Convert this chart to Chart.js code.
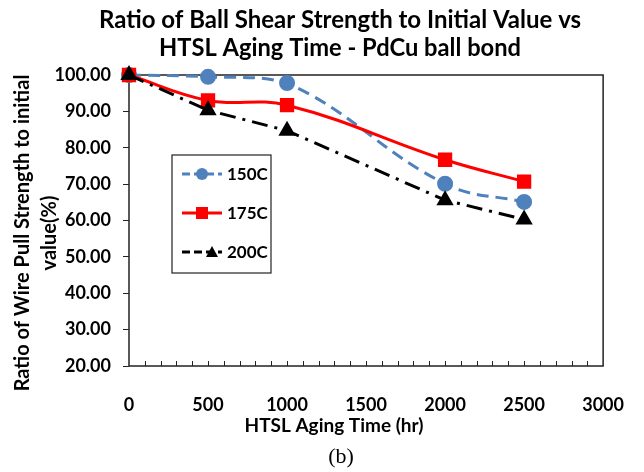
<!DOCTYPE html>
<html>
<head>
<meta charset="utf-8">
<script src="https://cdn.jsdelivr.net/npm/chart.js@4"></script>
<style>
  body { margin: 0; background: #fff; }
</style>
</head>
<body>
<canvas id="chart" width="644" height="472"></canvas>
<script>
// data
const hours = [0, 500, 1000, 2000, 2500];
const ratio150 = [100, 99.5, 97.8, 70.1, 65.1];
const ratio175 = [100, 93.0, 91.7, 76.7, 70.7];
const ratio200 = [100, 90.3, 84.7, 65.6, 60.3];
const seriesNames = ['150C', '175C', '200C'];
const xLabelValues = [0, 500, 1000, 1500, 2000, 2500, 3000];

const titleLines = ['Ratio of Ball Shear Strength to Initial Value vs', 'HTSL Aging Time - PdCu ball bond'];
const yTitleLines = ['Ratio of Wire Pull Strength to initial', 'value(%)'];
const xTitle = 'HTSL Aging Time (hr)';
const caption = '(b)';

const FONT = 'Lato, "Open Sans", sans-serif';
const BLUE = '#4f81bd';
const RED = '#ff0000';
const BLACK = '#000000';

function pts(ys) {
  return hours.map((h, i) => ({ x: h, y: ys[i] }));
}

// titles, box, inner ticks and the legend
const decorations = {
  id: 'decorations',
  beforeDatasetsDraw(chart) {
    const { ctx, chartArea: a, scales } = chart;
    ctx.save();
    ctx.strokeStyle = '#222';
    ctx.lineWidth = 1.5;
    ctx.strokeRect(a.left, a.top, a.right - a.left, a.bottom - a.top);
    ctx.lineWidth = 1;
    ctx.beginPath();
    for (let v = 100; v < 3000; v += 100) {
      const px = Math.round(scales.x.getPixelForValue(v)) + 0.5;
      ctx.moveTo(px, a.bottom);
      ctx.lineTo(px, a.bottom - 5);
    }
    ctx.stroke();
    ctx.restore();
  },
  afterDraw(chart) {
    const { ctx, chartArea: a } = chart;
    ctx.save();
    ctx.fillStyle = '#000';
    ctx.textAlign = 'center';
    ctx.textBaseline = 'alphabetic';

    // main title
    ctx.font = 'bold 24px ' + FONT;
    ctx.fillText(titleLines[0], 340, 28, 488);
    ctx.fillText(titleLines[1], 340, 56, 362);

    // x title and caption
    ctx.font = 'bold 19px ' + FONT;
    ctx.fillText(xTitle, 334, 432, 180);
    ctx.font = '22px "Liberation Serif", "Times New Roman", serif';
    ctx.fillText(caption, 341, 463);

    // y title
    ctx.save();
    ctx.translate(0, 233);
    ctx.rotate(-Math.PI / 2);
    ctx.font = 'bold 20px ' + FONT;
    ctx.fillText(yTitleLines[0], 0, 29, 327);
    ctx.fillText(yTitleLines[1], 0, 56);
    ctx.restore();

    // legend box
    const lx = a.left + 43, ly = a.top + 80, lw = 99, lh = 118;
    ctx.fillStyle = '#fff';
    ctx.fillRect(lx, ly, lw, lh);
    ctx.strokeStyle = '#222';
    ctx.lineWidth = 1.2;
    ctx.strokeRect(lx, ly, lw, lh);
    chart.data.datasets.forEach((ds, i) => {
      const y = ly + 19 + i * 39;
      ctx.strokeStyle = ds.borderColor;
      ctx.lineWidth = 3;
      ctx.setLineDash(ds.borderDash ? [8, 4] : []);
      ctx.beginPath();
      ctx.moveTo(lx + 10, y);
      ctx.lineTo(lx + 50, y);
      ctx.stroke();
      ctx.setLineDash([]);
      ctx.fillStyle = ds.pointBackgroundColor;
      ctx.beginPath();
      if (ds.pointStyle === 'circle') {
        ctx.arc(lx + 30, y, 6, 0, Math.PI * 2);
      } else if (ds.pointStyle === 'rect') {
        ctx.rect(lx + 24, y - 6, 12, 12);
      } else {
        ctx.moveTo(lx + 40, y - 6);
        ctx.lineTo(lx + 46, y + 5);
        ctx.lineTo(lx + 34, y + 5);
        ctx.closePath();
      }
      ctx.fill();
      ctx.fillStyle = '#000';
      ctx.textAlign = 'left';
      ctx.textBaseline = 'middle';
      ctx.font = 'bold 17px ' + FONT;
      ctx.fillText(ds.label, lx + 55, y + 1);
    });
    ctx.restore();
  }
};

new Chart(document.getElementById('chart'), {
  type: 'line',
  data: {
    datasets: [
      {
        label: seriesNames[0],
        data: pts(ratio150),
        borderColor: BLUE,
        backgroundColor: BLUE,
        pointBackgroundColor: BLUE,
        borderWidth: 3,
        borderDash: [12, 7],
        pointStyle: 'circle',
        pointRadius: 6.5,
        tension: 0.4,
        order: 2
      },
      {
        label: seriesNames[1],
        data: pts(ratio175),
        borderColor: RED,
        backgroundColor: RED,
        pointBackgroundColor: RED,
        borderWidth: 3,
        pointStyle: 'rect',
        pointRadius: 8,
        tension: 0.4,
        order: 1
      },
      {
        label: seriesNames[2],
        data: pts(ratio200),
        borderColor: BLACK,
        backgroundColor: BLACK,
        pointBackgroundColor: BLACK,
        borderWidth: 3,
        borderDash: [16, 7, 3, 7],
        pointStyle: 'triangle',
        pointRadius: 7,
        tension: 0,
        order: 0
      }
    ]
  },
  options: {
    responsive: false,
    animation: false,
    clip: false,
    layout: { padding: { top: 75, right: 33, left: 0, bottom: 0 } },
    plugins: {
      legend: { display: false },
      title: { display: false },
      tooltip: { enabled: false }
    },
    elements: { point: { borderWidth: 0 } },
    scales: {
      x: {
        type: 'linear',
        min: 0,
        max: 3000,
        afterBuildTicks(scale) {
          scale.ticks = xLabelValues.map(v => ({ value: v }));
        },
        afterFit(scale) { scale.height = 106; },
        grid: { display: false },
        border: { display: false },
        ticks: {
          color: '#000',
          padding: 20,
          maxRotation: 0,
          autoSkip: false,
          font: { family: FONT, size: 18, weight: 'bold' },
          callback: v => String(v)
        }
      },
      y: {
        min: 20,
        max: 100,
        afterFit(scale) { scale.width = 129; },
        grid: { drawOnChartArea: false, drawTicks: true, tickLength: 6, color: '#222' },
        border: { display: false },
        ticks: {
          stepSize: 10,
          color: '#000',
          padding: 12,
          font: { family: FONT, size: 18, weight: 'bold' },
          callback: v => v.toFixed(2)
        }
      }
    }
  },
  plugins: [decorations]
});
</script>
</body>
</html>
